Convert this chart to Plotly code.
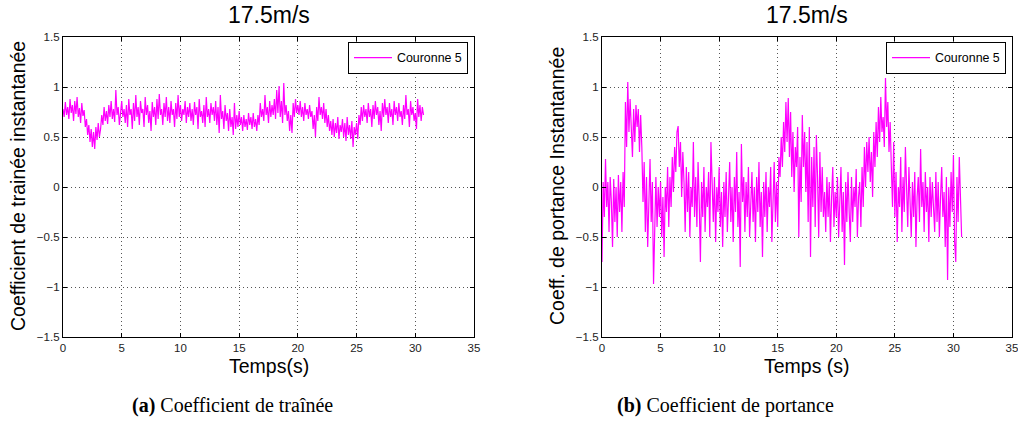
import numpy as np
import plotly.graph_objects as go

DT = 0.1  # sampling step of the transcribed signals (s)

# Instantaneous drag coefficient, one value per 0.1 s
cd_values = [
    0.78, 0.70, 0.85, 0.72, 0.80, 0.68, 0.88, 0.74, 0.82, 0.66,
    0.86, 0.73, 0.90, 0.70, 0.79, 0.64, 0.84, 0.71, 0.77, 0.60,
    0.68, 0.52, 0.62, 0.45, 0.58, 0.40, 0.55, 0.38, 0.60, 0.47,
    0.64, 0.50, 0.58, 0.72, 0.62, 0.80, 0.66, 0.76, 0.63, 0.82,
    0.70, 0.86, 0.68, 0.78, 0.65, 0.97, 0.72, 0.80, 0.62, 0.75,
    0.86, 0.70, 0.78, 0.64, 0.82, 0.60, 0.88, 0.72, 0.78, 0.58,
    0.84, 0.66, 0.92, 0.70, 0.80, 0.62, 0.86, 0.74, 0.78, 0.60,
    0.90, 0.72, 0.82, 0.64, 0.76, 0.56, 0.85, 0.70, 0.80, 0.62,
    0.88, 0.68, 0.93, 0.72, 0.78, 0.62, 0.84, 0.70, 0.90, 0.66,
    0.80, 0.64, 0.86, 0.72, 0.78, 0.60, 0.84, 0.68, 0.92, 0.70,
    0.82, 0.66, 0.78, 0.72, 0.86, 0.64, 0.80, 0.70, 0.84, 0.66,
    0.78, 0.62, 0.85, 0.72, 0.80, 0.58, 0.88, 0.70, 0.76, 0.64,
    0.82, 0.60, 0.90, 0.70, 0.78, 0.64, 0.84, 0.72, 0.80, 0.66,
    0.86, 0.62, 0.80, 0.54, 0.92, 0.68, 0.76, 0.58, 0.82, 0.66,
    0.74, 0.56, 0.78, 0.60, 0.70, 0.52, 0.84, 0.58, 0.72, 0.60,
    0.76, 0.62, 0.70, 0.56, 0.72, 0.60, 0.68, 0.57, 0.74, 0.62,
    0.70, 0.58, 0.74, 0.60, 0.68, 0.56, 0.72, 0.62, 0.84, 0.70,
    0.78, 0.66, 0.92, 0.72, 0.80, 0.64, 0.86, 0.70, 0.82, 0.72,
    0.88, 0.68, 0.97, 0.74, 1.01, 0.70, 0.86, 0.64, 1.04, 0.72,
    0.82, 0.66, 0.76, 0.56, 0.72, 0.54, 0.84, 0.70, 0.88, 0.74,
    0.82, 0.72, 0.86, 0.70, 0.80, 0.66, 0.84, 0.72, 0.78, 0.68,
    0.82, 0.70, 0.76, 0.58, 0.72, 0.50, 0.80, 0.66, 0.90, 0.72,
    0.80, 0.68, 0.84, 0.64, 0.78, 0.60, 0.72, 0.56, 0.66, 0.52,
    0.68, 0.50, 0.64, 0.54, 0.70, 0.48, 0.62, 0.55, 0.68, 0.50,
    0.64, 0.46, 0.70, 0.52, 0.62, 0.48, 0.66, 0.40, 0.60, 0.52,
    0.64, 0.48, 0.72, 0.62, 0.80, 0.66, 0.82, 0.70, 0.78, 0.64,
    0.84, 0.70, 0.78, 0.60, 0.82, 0.68, 0.86, 0.72, 0.80, 0.62,
    0.76, 0.56, 0.84, 0.70, 0.88, 0.72, 0.80, 0.64, 0.84, 0.70,
    0.78, 0.62, 0.86, 0.72, 0.80, 0.66, 0.84, 0.70, 0.76, 0.62,
    0.82, 0.68, 0.92, 0.72, 0.78, 0.60, 0.86, 0.72, 0.80, 0.66,
    0.74, 0.58, 0.88, 0.70, 0.82, 0.66, 0.80, 0.72,
]

# Instantaneous lift coefficient, one value per 0.1 s
cl_values = [
    -0.75, 0.05, -0.30, 0.28, -0.20, 0.05, -0.45, 0.10, -0.15, -0.60,
    0.08, -0.35, 0.00, -0.50, 0.12, -0.25, 0.05, -0.45, 0.15, -0.20,
    0.85, 0.40, 1.05, 0.55, 0.88, 0.50, 0.30, 0.78, 0.45, 0.82,
    0.60, 0.78, 0.35, 0.72, 0.40, -0.15, 0.25, -0.45, 0.10, -0.60,
    -0.10, 0.28, -0.35, 0.05, -0.97, -0.20, 0.10, -0.40, 0.00, -0.30,
    0.05, -0.50, -0.10, -0.70, 0.00, -0.25, 0.20, -0.40, 0.10, -0.20,
    0.30, -0.05, 0.40, 0.15, 0.55, 0.61, 0.20, 0.45, -0.10, 0.35,
    0.05, -0.45, 0.20, -0.25, 0.15, -0.50, 0.00, -0.20, 0.45, -0.30,
    0.10, -0.40, 0.25, -0.15, -0.75, 0.05, -0.30, 0.20, -0.45, 0.00,
    -0.20, 0.15, -0.50, 0.45, -0.10, -0.35, 0.10, -0.55, 0.00, -0.25,
    0.20, -0.40, -0.05, -0.60, 0.05, -0.30, 0.15, -0.45, -0.10, 0.25,
    -0.35, 0.00, -0.55, 0.10, -0.25, 0.35, -0.40, -0.05, -0.80, 0.43,
    -0.15, 0.10, -0.45, 0.05, -0.30, 0.20, -0.50, -0.05, 0.15, -0.35,
    0.00, -0.55, 0.10, -0.25, 0.25, -0.40, -0.05, -0.70, 0.05, -0.30,
    0.15, -0.45, 0.00, -0.20, 0.20, -0.55, -0.10, 0.25, -0.35, 0.05,
    -0.40, 0.30, 0.10, 0.50, 0.20, 0.65, 0.35, 0.85, 0.45, 0.89,
    0.30, 0.75, 0.10, 0.55, -0.05, 0.40, 0.20, 0.60, -0.50, 0.30,
    -0.15, 0.72, 0.20, 0.55, -0.05, 0.45, -0.35, 0.60, -0.70, 0.30,
    -0.20, 0.40, -0.40, 0.52, 0.10, -0.50, 0.35, -0.25, 0.20, -0.30,
    -0.05, -0.45, 0.10, -0.30, 0.05, -0.55, -0.10, 0.20, -0.40, -0.05,
    -0.30, 0.10, -0.50, -0.15, 0.20, -0.45, -0.05, -0.78, 0.05, -0.35,
    0.15, -0.25, -0.55, 0.10, -0.35, 0.00, -0.20, 0.18, -0.50, -0.10,
    0.05, -0.40, 0.20, -0.20, 0.40, 0.00, 0.45, 0.15, 0.50, 0.05,
    0.35, -0.10, 0.55, 0.20, 0.65, 0.30, 0.80, 0.45, 0.90, 0.55,
    0.70, 0.40, 1.09, 0.60, 0.85, 0.35, 0.65, 0.20, -0.20, 0.45,
    -0.30, 0.15, -0.55, 0.00, -0.20, 0.30, -0.45, 0.10, -0.25, 0.40,
    -0.05, -0.40, 0.20, -0.15, -0.50, 0.05, -0.30, 0.15, -0.60, -0.10,
    0.10, -0.35, 0.38, -0.20, 0.05, -0.45, 0.15, -0.25, 0.00, -0.55,
    0.10, -0.30, 0.05, -0.20, -0.45, 0.15, -0.35, 0.05, -0.50, -0.10,
    0.20, -0.30, -0.05, -0.60, 0.10, -0.93, 0.00, -0.40, 0.15, -0.25,
    0.32, -0.55, -0.75, 0.10, -0.35, 0.30, -0.20, -0.50,
]

x_ticks = [0, 5, 10, 15, 20, 25, 30, 35]
y_ticks = [-1.5, -1, -0.5, 0, 0.5, 1, 1.5]
y_tick_text = ["\u22121.5", "\u22121", "\u22120.5", "0", "0.5", "1", "1.5"]

panel_title = "17.5m/s"
series_name = "Couronne 5"
caption_a = "<b>(a)</b> Coefficient de traînée"
caption_b = "<b>(b)</b> Coefficient de portance"

t_cd = np.arange(len(cd_values)) * DT
t_cl = np.arange(len(cl_values)) * DT

W, H = 1018, 430
MAG = "#ff00ff"
SANS = "Liberation Sans, Arial, sans-serif"
SERIF = "Liberation Serif, DejaVu Serif, serif"

fig = go.Figure()
fig.add_trace(go.Scatter(x=t_cd, y=cd_values, mode="lines", name=series_name,
                         line=dict(color=MAG, width=1.2), xaxis="x", yaxis="y",
                         legend="legend"))
fig.add_trace(go.Scatter(x=t_cl, y=cl_values, mode="lines", name=series_name,
                         line=dict(color=MAG, width=1.2), xaxis="x2", yaxis="y2",
                         legend="legend2"))

def px(v):
    return v / W

def py(v):
    return 1 - v / H

axis_common = dict(
    showline=True, linecolor="black", linewidth=1.3, mirror="ticks",
    ticks="inside", ticklen=4, tickcolor="black", automargin=False,
    ticklabeloverflow="allow",
    showgrid=True, gridcolor="#555555", griddash="1px,3px", gridwidth=1,
    zeroline=False, tickfont=dict(family=SANS, size=11.5, color="#222"),
)

L1, R1 = 63, 474
L2, R2 = 602, 1012
TOP, BOT = 37, 337

legend_common = dict(xanchor="right", yanchor="top",
                     bgcolor="white", bordercolor="black", borderwidth=1,
                     font=dict(family=SANS, size=12.4, color="black"),
                     tracegroupgap=0, itemwidth=38)

fig.update_layout(
    width=W, height=H, autosize=False,
    margin=dict(l=0, r=0, t=0, b=0, pad=0),
    paper_bgcolor="white", plot_bgcolor="white",
    xaxis=dict(domain=[px(L1), px(R1)], range=[0, 35], tickvals=x_ticks,
               anchor="y", **axis_common),
    yaxis=dict(domain=[py(BOT), py(TOP)], range=[-1.5, 1.5], tickvals=y_ticks,
               ticktext=y_tick_text, anchor="x", **axis_common),
    xaxis2=dict(domain=[px(L2), px(R2)], range=[0, 35], tickvals=x_ticks,
                anchor="y2", **axis_common),
    yaxis2=dict(domain=[py(BOT), py(TOP)], range=[-1.5, 1.5], tickvals=y_ticks,
                ticktext=y_tick_text, anchor="x2", **axis_common),
    legend=dict(x=px(R1 - 6), y=py(TOP + 5), **legend_common),
    legend2=dict(x=px(R2 - 6), y=py(TOP + 5), **legend_common),
    showlegend=True,
)

ann = []
for cx, xl, yl, yx in [((L1 + R1) / 2, "Temps(s)", "Coefficient de trainée instantanée", 18),
                       ((L2 + R2) / 2, "Temps (s)", "Coeff. de portance Instantannée", 557)]:
    ann.append(dict(x=px(cx), y=py(15), xref="paper", yref="paper", text=panel_title,
                    showarrow=False, xanchor="center", yanchor="middle",
                    font=dict(family=SANS, size=23, color="black")))
    ann.append(dict(x=px(cx), y=py(366), xref="paper", yref="paper", text=xl,
                    showarrow=False, xanchor="center", yanchor="middle",
                    font=dict(family=SANS, size=19.5, color="black")))
    ann.append(dict(x=px(yx), y=py(186), xref="paper", yref="paper", text=yl,
                    showarrow=False, xanchor="center", yanchor="middle", textangle=-90,
                    font=dict(family=SANS, size=19.5, color="black")))
ann.append(dict(x=px(232), y=py(405), xref="paper", yref="paper", text=caption_a,
                showarrow=False, xanchor="center", yanchor="middle",
                font=dict(family=SERIF, size=20, color="black")))
ann.append(dict(x=px(725), y=py(405), xref="paper", yref="paper", text=caption_b,
                showarrow=False, xanchor="center", yanchor="middle",
                font=dict(family=SERIF, size=20, color="black")))
fig.update_layout(annotations=ann)

fig.write_html("out.html", config={"displayModeBar": False},
               post_script="document.body.style.margin='0px';document.body.style.overflow='hidden';")
